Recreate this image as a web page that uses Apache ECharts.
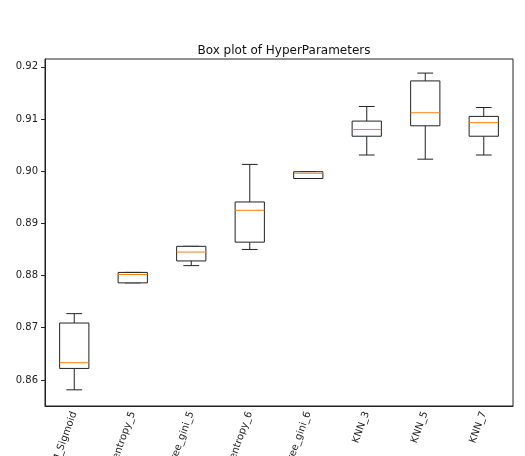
<!DOCTYPE html>
<html>
<head>
<meta charset="utf-8">
<script src="https://cdn.jsdelivr.net/npm/echarts@6/dist/echarts.min.js"></script>
<style>
  html, body { margin: 0; padding: 0; background: #fff; }
  #chart { width: 525px; height: 456px; }
</style>
</head>
<body>
<div id="chart"></div>
<script>
// model names on the x axis (only their ends are visible in the picture)
var models = ["SVM_Sigmoid", "DecisionTree_entropy_5", "DecisionTree_gini_5",
              "DecisionTree_entropy_6", "DecisionTree_gini_6", "KNN_3", "KNN_5", "KNN_7"];
// five-number summaries
var whiskerLow  = [0.8581, 0.8786, 0.8819, 0.8850, 0.8986, 0.9031, 0.9023, 0.9031];
var q1          = [0.8622, 0.8786, 0.8828, 0.8864, 0.8986, 0.9067, 0.9087, 0.9067];
var median      = [0.8633, 0.8802, 0.8845, 0.8925, 0.8996, 0.9080, 0.9112, 0.9093];
var q3          = [0.8709, 0.8806, 0.8856, 0.8941, 0.8999, 0.9096, 0.9173, 0.9105];
var whiskerHigh = [0.8727, 0.8806, 0.8856, 0.9013, 0.8999, 0.9124, 0.9188, 0.9122];
var yTicks = [0.86, 0.87, 0.88, 0.89, 0.90, 0.91, 0.92];

var data = models.map(function(m, i) {
    return [i, whiskerLow[i], q1[i], median[i], q3[i], whiskerHigh[i]];
});

function renderBox(params, api) {
    var i = api.value(0);
    var band = api.size([1, 0])[0];
    var boxW = band * 0.5;
    var capW = band * 0.27;
    var pLow = api.coord([i, api.value(1)]);
    var pQ1 = api.coord([i, api.value(2)]);
    var pMed = api.coord([i, api.value(3)]);
    var pQ3 = api.coord([i, api.value(4)]);
    var pHigh = api.coord([i, api.value(5)]);
    var x = pQ1[0];
    var stroke = { stroke: '#222', lineWidth: 1, fill: null };
    return {
        type: 'group',
        children: [
            { type: 'line', shape: { x1: x, y1: pLow[1], x2: x, y2: pQ1[1] }, style: stroke },
            { type: 'line', shape: { x1: x, y1: pQ3[1], x2: x, y2: pHigh[1] }, style: stroke },
            { type: 'line', shape: { x1: x - capW / 2, y1: pLow[1], x2: x + capW / 2, y2: pLow[1] }, style: stroke },
            { type: 'line', shape: { x1: x - capW / 2, y1: pHigh[1], x2: x + capW / 2, y2: pHigh[1] }, style: stroke },
            { type: 'rect', shape: { x: x - boxW / 2, y: pQ3[1], width: boxW, height: pQ1[1] - pQ3[1] },
              style: { stroke: '#222', lineWidth: 1, fill: '#fff' } },
            { type: 'line', shape: { x1: x - boxW / 2, y1: pMed[1], x2: x + boxW / 2, y2: pMed[1] },
              style: { stroke: '#ff7f0e', lineWidth: 1 } }
        ]
    };
}

var chart = echarts.init(document.getElementById('chart'));
chart.setOption({
    animation: false,
    textStyle: { fontFamily: 'DejaVu Sans' },
    title: {
        text: 'Box plot of HyperParameters',
        left: 279,
        textAlign: 'center',
        top: 40,
        textStyle: { fontSize: 12, fontWeight: 'normal', color: '#111' }
    },
    grid: {
        left: 45, right: 12, top: 59, bottom: 50,
        containLabel: false,
        outerBoundsMode: 'none',
        show: true, borderColor: '#222', borderWidth: 1, backgroundColor: '#fff'
    },
    xAxis: {
        type: 'category',
        data: models,
        boundaryGap: true,
        axisLine: { lineStyle: { color: '#222' } },
        axisTick: { alignWithLabel: true, length: 4, lineStyle: { color: '#222' } },
        axisLabel: { rotate: 70, fontSize: 10, color: '#222', margin: 6, interval: 0 },
        splitLine: { show: false }
    },
    yAxis: {
        type: 'value',
        min: 0.855,
        max: 0.9215,
        axisLine: { show: true, lineStyle: { color: '#222' } },
        axisTick: { show: true, length: 4, customValues: yTicks, lineStyle: { color: '#222' } },
        axisLabel: {
            fontSize: 10, color: '#222', margin: 7, customValues: yTicks,
            formatter: function(v) { return v.toFixed(2); }
        },
        splitLine: { show: false }
    },
    series: [{
        type: 'custom',
        renderItem: renderBox,
        encode: { x: 0, y: [1, 2, 3, 4, 5] },
        data: data
    }]
});
</script>
</body>
</html>
